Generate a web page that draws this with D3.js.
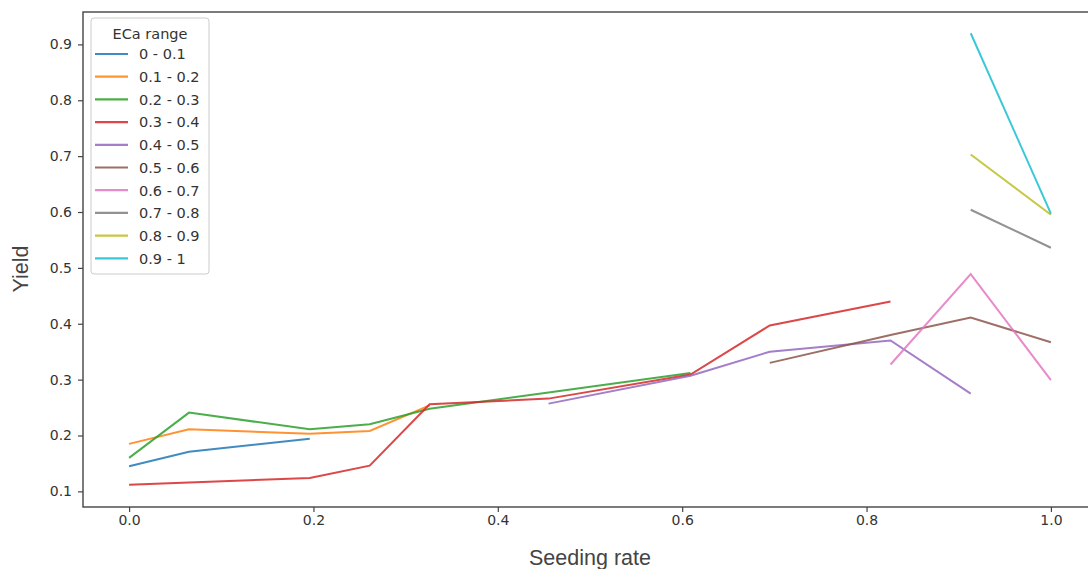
<!DOCTYPE html>
<html lang="en">
<meta charset="UTF-8">
<head>
    <title>Yield vs seeding rate</title>
    <script src="https://d3js.org/d3.v7.min.js"></script>
    <style>
        body { margin: 0; background: white; }
        text { font-family: "DejaVu Sans", sans-serif; }
    </style>
</head>
<body>
    <div id="plot"></div>
    <script>
        // ECa ranges (legend order) and one seeding-rate / yield pair per range
        var ecaRanges = ["0 - 0.1", "0.1 - 0.2", "0.2 - 0.3", "0.3 - 0.4", "0.4 - 0.5",
            "0.5 - 0.6", "0.6 - 0.7", "0.7 - 0.8", "0.8 - 0.9", "0.9 - 1"];

        var seed_0 = [0, 0.065, 0.196];
        var yield_0 = [0.145, 0.171, 0.194];
        var seed_1 = [0, 0.065, 0.196, 0.261, 0.326];
        var yield_1 = [0.185, 0.211, 0.203, 0.208, 0.254];
        var seed_2 = [0, 0.065, 0.196, 0.261, 0.326, 0.455, 0.609];
        var yield_2 = [0.160, 0.241, 0.211, 0.220, 0.248, 0.277, 0.312];
        var seed_3 = [0, 0.065, 0.196, 0.261, 0.326, 0.455, 0.609, 0.695, 0.826];
        var yield_3 = [0.112, 0.116, 0.124, 0.146, 0.256, 0.266, 0.309, 0.397, 0.440];
        var seed_4 = [0.455, 0.609, 0.695, 0.826, 0.913];
        var yield_4 = [0.257, 0.307, 0.350, 0.370, 0.275];
        var seed_5 = [0.695, 0.826, 0.913, 1.0];
        var yield_5 = [0.330, 0.380, 0.411, 0.367];
        var seed_6 = [0.826, 0.913, 1.0];
        var yield_6 = [0.327, 0.489, 0.299];
        var seed_7 = [0.913, 1.0];
        var yield_7 = [0.604, 0.536];
        var seed_8 = [0.913, 1.0];
        var yield_8 = [0.703, 0.595];
        var seed_9 = [0.913, 1.0];
        var yield_9 = [0.920, 0.597];

        var xTicks = [0, 0.2, 0.4, 0.6, 0.8, 1.0];
        var yTicks = [0.1, 0.2, 0.3, 0.4, 0.5, 0.6, 0.7, 0.8, 0.9];

        var colors = ["#1f77b4", "#ff7f0e", "#2ca02c", "#d62728", "#9467bd",
            "#8c564b", "#e377c2", "#7f7f7f", "#bcbd22", "#17becf"];

        var seeds = [seed_0, seed_1, seed_2, seed_3, seed_4, seed_5, seed_6, seed_7, seed_8, seed_9];
        var yields = [yield_0, yield_1, yield_2, yield_3, yield_4, yield_5, yield_6, yield_7, yield_8, yield_9];

        var series = ecaRanges.map(function (name, i) {
            return { name: name, color: colors[i], points: seeds[i].map(function (s, j) { return [s, yields[i][j]]; }) };
        });

        var width = 1088,
            height = 569;
        // note: "top" is taken by window.top, so use plot* names
        var plotLeft = 83, plotTop = 12, plotRight = 1097, plotBottom = 507;

        var svg = d3.select('#plot').append('svg')
            .attr('width', width)
            .attr('height', height);

        // matplotlib-like 5% margins
        var x = d3.scaleLinear().domain([-0.05, 1.05]).range([plotLeft, plotRight]);
        var y = d3.scaleLinear().domain([0.072, 0.958]).range([plotBottom, plotTop]);

        var line = d3.line()
            .x(function (d) { return x(d[0]); })
            .y(function (d) { return y(d[1]); });

        svg.append("g").selectAll("path")
            .data(series)
            .join("path")
            .attr("d", function (d) { return line(d.points); })
            .attr("fill", "none")
            .attr("stroke", function (d) { return d.color; })
            .attr("stroke-width", 2)
            .attr("stroke-opacity", 0.85);

        // axes
        var xAxis = svg.append("g")
            .attr("transform", "translate(0," + plotBottom + ")")
            .call(d3.axisBottom(x).tickValues(xTicks).tickFormat(d3.format(".1f")).tickSize(5).tickPadding(3));
        var yAxis = svg.append("g")
            .attr("transform", "translate(" + plotLeft + ",0)")
            .call(d3.axisLeft(y).tickValues(yTicks).tickFormat(d3.format(".1f")).tickSize(5).tickPadding(6));

        [xAxis, yAxis].forEach(function (ax) {
            ax.select(".domain").remove();
            ax.selectAll("line").attr("stroke", "#444").attr("stroke-width", 1.2);
            ax.selectAll("text").attr("fill", "#333").style("font-size", "14px");
        });

        // frame
        svg.append("rect")
            .attr("x", plotLeft).attr("y", plotTop)
            .attr("width", plotRight - plotLeft).attr("height", plotBottom - plotTop)
            .attr("fill", "none")
            .attr("stroke", "#444")
            .attr("stroke-width", 1.4);

        // axis labels
        svg.append("text")
            .attr("x", 590).attr("y", 565)
            .attr("text-anchor", "middle")
            .attr("fill", "#444")
            .style("font-family", "'Liberation Sans', Arial, sans-serif")
            .style("font-size", "21.5px")
            .text("Seeding rate");
        svg.append("text")
            .attr("transform", "translate(28,269) rotate(-90)")
            .attr("text-anchor", "middle")
            .attr("fill", "#444")
            .style("font-family", "'Liberation Sans', Arial, sans-serif")
            .style("font-size", "21.5px")
            .text("Yield");

        // legend
        var legend = svg.append("g");
        legend.append("rect")
            .attr("x", 91).attr("y", 18)
            .attr("width", 118).attr("height", 256)
            .attr("rx", 3)
            .attr("fill", "white").attr("fill-opacity", 0.8)
            .attr("stroke", "#ccc");
        legend.append("text")
            .attr("x", 150).attr("y", 38.6)
            .attr("text-anchor", "middle")
            .attr("fill", "#333")
            .style("font-size", "14.5px")
            .text("ECa range");
        var items = legend.selectAll("g.item")
            .data(series)
            .join("g")
            .attr("class", "item")
            .attr("transform", function (d, i) { return "translate(0," + (54 + i * 22.7) + ")"; });
        items.append("line")
            .attr("x1", 95).attr("x2", 128)
            .attr("stroke", function (d) { return d.color; })
            .attr("stroke-width", 2.2)
            .attr("stroke-opacity", 0.85);
        items.append("text")
            .attr("x", 139).attr("y", 5.3)
            .attr("fill", "#333")
            .style("font-size", "14.5px")
            .text(function (d) { return d.name; });
    </script>
</body>
</html>
